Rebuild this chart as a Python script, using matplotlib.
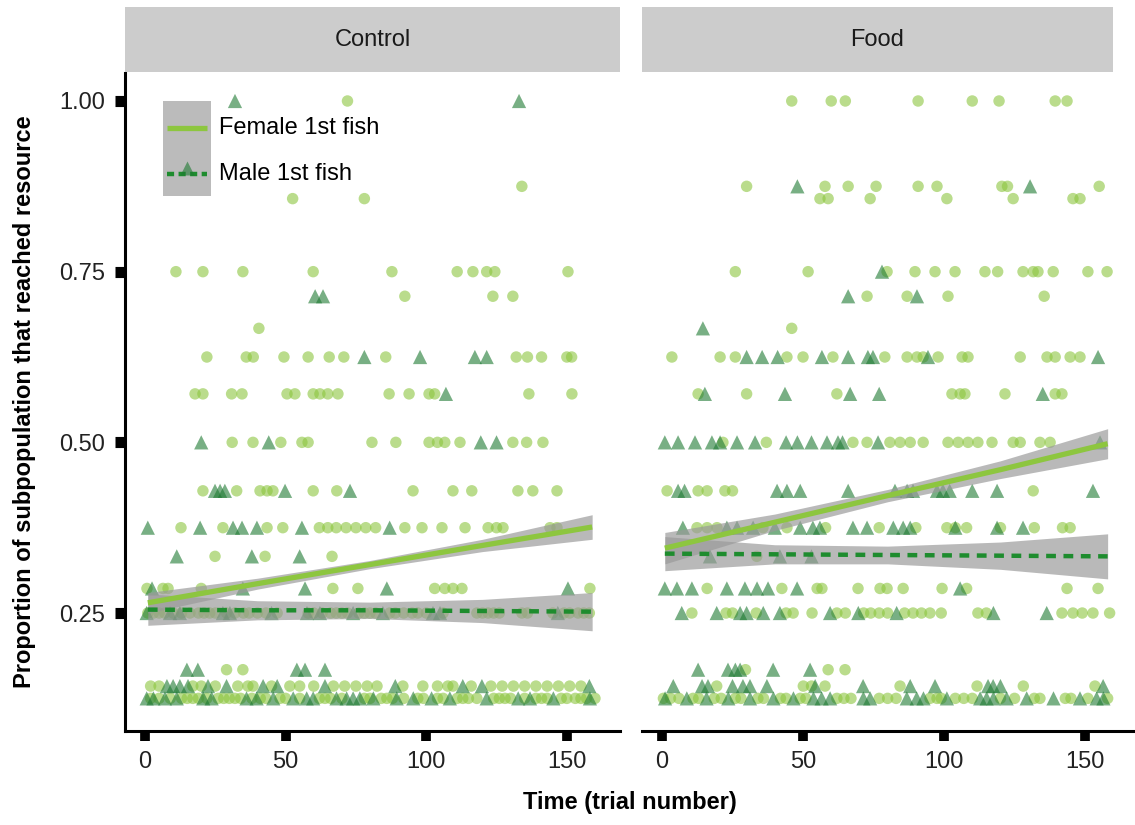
import matplotlib
matplotlib.use("Agg")
import matplotlib.pyplot as plt
from matplotlib.patches import Rectangle
from matplotlib.lines import Line2D

plt.rcParams['font.family'] = ['Liberation Sans', 'DejaVu Sans']

# ───── Data: trial numbers per proportion level ─────────────
# Control, female first fish (circles)
ctrl_female = {
    1.0: [72],
    0.875: [134],
    0.857: [52.5, 78],
    0.75: [11, 20.6, 34.8, 59.8, 87.8, 111, 116.6, 121.5, 124.4, 150.4],
    0.714: [92.4, 123.7, 130.8],
    0.667: [40.5],
    0.625: [22, 36, 38.5, 49.4, 58, 65.5, 70.7, 85.6, 132, 136, 141, 150, 151.7],
    0.571: [17.8, 20.6, 30.8, 34.5, 50.5, 53.3, 59.8, 62.2, 65, 68.6, 86.8, 93.9,
            101, 103, 136.5, 151.8],
    0.5: [31, 38.4, 48.3, 55.8, 58, 80.7, 89.2, 101, 104, 106.6, 112, 130.8, 135.7, 141.5],
    0.429: [20.6, 32.6, 40.9, 43.4, 45.5, 59.8, 68.2, 95.3, 109.5, 116.2, 132.6, 137.9, 146.5],
    0.375: [12.8, 27.7, 43.4, 49, 62, 65, 68, 71.5, 75, 78.5, 82, 92.4, 98.5, 105.6,
            113.8, 122, 125, 127.3, 144, 146.5],
    0.333: [24.9, 42.7, 66.5],
    0.286: [0.7, 6.4, 8.2, 20, 66.8, 75.7, 103, 106.6, 109.5, 112.7, 158.2],
    0.25: [1, 3, 5, 7, 10, 13, 16, 19, 21, 23, 25, 29, 32, 35, 37, 40, 43, 47, 58, 60,
           63, 66, 68, 70, 72, 76, 78, 80, 82, 87, 89, 92, 95, 97, 100, 106, 118, 120,
           122, 124, 126, 134, 136, 145, 149, 151, 154, 156, 158],
    0.167: [29, 34.8],
    0.143: [2, 5, 17, 20, 25, 33, 36.6, 38.4, 45, 51.5, 55, 60, 67, 71, 75, 79, 82.5,
            91.7, 98.8, 104, 107.7, 109.5, 116, 123, 127, 131, 135, 139, 143, 147, 151, 155],
    0.125: [2, 5, 9, 13, 15, 17, 19, 22, 26, 28, 30, 32, 34, 38, 41, 43, 48, 50, 55, 62,
            64, 66, 70, 78, 80, 84, 86, 88, 92, 97, 99, 104, 106, 111, 113, 115, 118, 124,
            126, 128, 130, 135, 139, 141, 143, 148, 150, 153, 155, 157, 160],
}

# Control, male first fish (triangles)
ctrl_male = {
    1.0: [32, 133],
    0.714: [60.5, 63.3],
    0.625: [78, 97.8, 117.3, 121.5],
    0.571: [107],
    0.5: [20, 44, 119.4, 125],
    0.429: [24.9, 26.7, 28.4, 49.8, 72.9],
    0.375: [1, 19.6, 31.3, 34.5, 39.8, 55.8, 87],
    0.333: [11.3, 38, 55],
    0.286: [2.5, 34.8, 56.9, 86, 150.4],
    0.25: [0.6, 8.9, 12.4, 27.7, 30.2, 45, 57.6, 62.2, 74, 84.6, 102.4, 104.9, 146.8],
    0.167: [14.9, 18.8, 54, 56.9, 64],
    0.143: [7.8, 10, 12.4, 15.3, 22.4, 29, 42, 47, 64, 89, 113, 119.8, 158],
    0.125: [0.6, 3, 7.1, 11.3, 20.7, 23.7, 36.1, 39.7, 45.6, 52.7, 57.5, 59.8, 68.1,
            71.7, 74, 76.4, 81.2, 89.5, 95.4, 101.9, 108.4, 121.5, 132.7, 136.9, 145.2, 158.2],
}

# Food, female first fish (circles)
food_female = {
    1.0: [46, 60, 65, 90.8, 110, 119.5, 139.4, 143.6],
    0.875: [30, 57.8, 66, 75.9, 90.8, 97.5, 120.5, 122.5, 155],
    0.857: [56, 58.9, 73.8, 101, 124.5, 145.7, 148.2],
    0.75: [26, 51.8, 79.8, 89.7, 96.8, 103.9, 114.5, 119, 128, 131.6, 133.3, 138.7, 151, 157.8],
    0.714: [72.7, 86.9, 101.4, 135.5],
    0.667: [46],
    0.625: [3.5, 20.6, 26, 44.3, 50, 60.6, 79, 86.9, 90.4, 92.6, 97.9, 106.4, 108.5,
             127, 136.5, 139.4, 144.7, 148.2],
    0.571: [12.8, 30, 62, 102.8, 105.7, 107.4, 121.6, 139.4, 141.8],
    0.5: [21.6, 37, 67.7, 72.7, 80.8, 84.4, 88, 92.6, 101.4, 105, 108.5, 112, 117,
          124.5, 127, 134, 137.6],
    0.429: [1.8, 12.8, 16, 22.3, 25, 131.6],
    0.375: [12.4, 16, 19.5, 35.8, 44.3, 58, 77, 90, 101, 104, 108, 120, 132, 142, 144.7],
    0.333: [33.6],
    0.286: [16, 42.5, 55, 56.7, 69.5, 77.3, 79.8, 85.5, 99.3, 108, 143.6, 154.6],
    0.25: [10.6, 22.7, 25, 33.4, 44, 46.5, 53.2, 62, 65, 71.5, 74, 77, 80, 86, 89, 92,
           95, 99, 112, 115, 141.8, 145.7, 149, 152.8, 158.7],
    0.167: [29.6, 58.9, 64.9],
    0.143: [19.4, 50.1, 53, 57.8, 84.4, 111.7, 128.1, 153.5],
    0.125: [0.5, 3, 6, 11, 13, 18.5, 21, 26, 28, 34, 36, 42, 44, 49, 51, 62, 64.5, 67,
            77, 80, 83, 95, 97.5, 99, 104, 107, 110, 120, 125, 132, 134, 143, 145, 151, 158],
}

# Food, male first fish (triangles)
food_male = {
    0.875: [48, 130.5],
    0.75: [78],
    0.714: [66, 90.4],
    0.667: [14.5],
    0.625: [30, 35.5, 41, 56.7, 66, 73, 74.8, 94.3, 154.6],
    0.571: [15.2, 43.6, 66.7, 77, 135],
    0.5: [1, 5.7, 11.7, 17.7, 20.6, 26.6, 33, 44, 48, 53, 58.5, 62.4, 64, 76.6, 155.3],
    0.429: [5.7, 8, 40.8, 44.3, 49, 66, 82.6, 86.9, 89, 97.5, 99.6, 102, 110, 118.8, 152.8],
    0.375: [7.4, 23, 26.6, 32.3, 40, 49, 53.5, 56, 67.7, 72.7, 82, 85.5, 88, 104, 118.8, 128],
    0.333: [17, 41.8, 53],
    0.286: [1, 5.3, 10.6, 23, 29.4, 33.7, 37.6, 47.9, 105.7],
    0.25: [7, 19.4, 27.7, 30, 35.9, 41.8, 59.6, 69.6, 83.2, 117.5, 136.4],
    0.167: [12.8, 23.4, 26, 27.7, 39.4, 52.5],
    0.143: [4, 14.2, 16.3, 25, 28.7, 31.2, 37.2, 54.3, 71.3, 88, 96.8, 115.6, 117.4, 120, 156.4],
    0.125: [1.1, 8.8, 15.8, 23.5, 31.2, 39.5, 46.6, 53.7, 56.6, 59.6, 71.4, 73.8, 86.8,
            90.3, 92.7, 101, 112.8, 115.1, 117.5, 122.2, 129.3, 138.8, 148.2, 154.1, 156.5],
}

# ───── Linear fits with confidence bands ─
fit_t = [1, 40, 80, 120, 159]
ctrl_f_fit = [0.265, 0.293, 0.321, 0.349, 0.376]
ctrl_f_lo = [0.250, 0.285, 0.315, 0.340, 0.358]
ctrl_f_hi = [0.280, 0.301, 0.327, 0.358, 0.394]
ctrl_m_fit = [0.255, 0.254, 0.254, 0.253, 0.252]
ctrl_m_lo = [0.232, 0.240, 0.242, 0.236, 0.224]
ctrl_m_hi = [0.278, 0.268, 0.266, 0.270, 0.280]

food_t = [1, 40, 80, 120, 158]
food_f_fit = [0.345, 0.383, 0.422, 0.460, 0.498]
food_f_lo = [0.322, 0.371, 0.413, 0.447, 0.476]
food_f_hi = [0.368, 0.395, 0.431, 0.473, 0.520]
food_m_fit = [0.337, 0.336, 0.335, 0.334, 0.333]
food_m_lo = [0.312, 0.322, 0.322, 0.314, 0.300]
food_m_hi = [0.362, 0.350, 0.348, 0.354, 0.366]

panels = ["Control", "Food"]
x_ticks = [0, 50, 100, 150]
y_ticks = [0.25, 0.50, 0.75, 1.00]
y_ticklabels = ["0.25", "0.50", "0.75", "1.00"]

# ───── Styles ────────────────────────────────────────────────
fem_col = '#8CC63F'
male_col = '#1F7A33'
fem_line = '#8DC63F'
male_line = '#1E8C2E'
band_col = '#999999'
W, H = 1135, 825
FS = 17


def scatter_series(ax, series, marker, color, size):
    for lvl, xs in series.items():
        ax.scatter(xs, [lvl] * len(xs), marker=marker, s=size, c=color,
                   alpha=0.6, edgecolors='none', clip_on=False, zorder=2)


def smooth(ax, t, fit, lo, hi, color, ls, lw):
    ax.fill_between(t, lo, hi, color=band_col, alpha=0.68, lw=0, zorder=3)
    ln, = ax.plot(t, fit, color=color, lw=lw, ls=ls, zorder=4,
                  solid_capstyle='butt', dash_capstyle='butt')
    if ls == '--':
        ln.set_dashes((2.2, 1.7))


fig = plt.figure(figsize=(W / 100, H / 100), dpi=100)

ax_bottom = (H - 731) / H
ax_h = (731 - 73) / H
ax1 = fig.add_axes([125 / W, ax_bottom, 495 / W, ax_h])
ax2 = fig.add_axes([642 / W, ax_bottom, 471 / W, ax_h])

scatter_series(ax1, ctrl_female, 'o', fem_col, 68)
scatter_series(ax1, ctrl_male, '^', male_col, 105)
smooth(ax1, fit_t, ctrl_m_fit, ctrl_m_lo, ctrl_m_hi, male_line, '--', 3.2)
smooth(ax1, fit_t, ctrl_f_fit, ctrl_f_lo, ctrl_f_hi, fem_line, '-', 3.8)

scatter_series(ax2, food_female, 'o', fem_col, 68)
scatter_series(ax2, food_male, '^', male_col, 105)
smooth(ax2, food_t, food_m_fit, food_m_lo, food_m_hi, male_line, '--', 3.2)
smooth(ax2, food_t, food_f_fit, food_f_lo, food_f_hi, fem_line, '-', 3.8)

ax1.set_xlim(-7.11, 168.9)
ax2.set_xlim(-7.09, 159.9)
for ax in (ax1, ax2):
    ax.set_ylim(0.0772, 1.041)
    ax.set_xticks(x_ticks)
    ax.set_xticklabels([str(v) for v in x_ticks])
    for s in ('top', 'right'):
        ax.spines[s].set_visible(False)
    ax.spines['bottom'].set_linewidth(2.2)
    ax.tick_params(axis='x', direction='out', length=7.5, width=7, pad=7,
                   labelsize=FS, labelcolor='#222222')
    ax.set_facecolor('none')

ax1.spines['left'].set_linewidth(2.2)
ax1.set_yticks(y_ticks)
ax1.set_yticklabels(y_ticklabels)
ax1.tick_params(axis='y', direction='out', length=7.5, width=8, pad=7,
                labelsize=FS, labelcolor='#222222')
ax2.spines['left'].set_visible(False)
ax2.set_yticks([])
ax2.spines['bottom'].set_bounds(-7.09, 167.7)

# facet strips
for name, x0, w in zip(panels, (125, 642), (495, 471)):
    sax = fig.add_axes([x0 / W, (H - 72) / H, w / W, 65 / H])
    sax.set_facecolor('#CCCCCC')
    sax.set_xticks([]); sax.set_yticks([])
    for s in sax.spines.values():
        s.set_visible(False)
    sax.text(0.5, 0.5, name, ha='center', va='center', fontsize=FS, color='#1a1a1a',
             transform=sax.transAxes)

# legend drawn inside the Control panel
tr = ax1.transAxes
ax1.add_patch(Rectangle((0.0768, 0.813), 0.097, 0.1444, transform=tr,
                        facecolor='#BBBBBB', edgecolor='none', zorder=5, clip_on=False))
ax1.add_line(Line2D([0.085, 0.1657], [0.9164, 0.9164], transform=tr, color=fem_line,
                    lw=3.8, zorder=6, solid_capstyle='butt'))
ml = Line2D([0.085, 0.1657], [0.8465, 0.8465], transform=tr, color=male_line,
            lw=3.2, zorder=6, dash_capstyle='butt')
ml.set_dashes((1.6, 1.0))
ax1.add_line(ml)
ax1.add_line(Line2D([0.125], [0.855], transform=tr, marker='^', ms=10, color=male_col,
                    alpha=0.6, mec='none', lw=0, zorder=7))
ax1.text(0.19, 0.9164, "Female 1st fish", transform=tr, va='center', ha='left',
         fontsize=FS, zorder=7)
ax1.text(0.19, 0.8465, "Male 1st fish", transform=tr, va='center', ha='left',
         fontsize=FS, zorder=7)

fig.text(630 / W, 1 - 803 / H, "Time (trial number)", ha='center', va='center',
         fontsize=FS, fontweight='bold')
fig.text(25 / W, 1 - 402 / H, "Proportion of subpopulation that reached resource",
         ha='center', va='center', rotation=90, fontsize=FS, fontweight='bold')

fig.savefig("out.png", dpi=100)
